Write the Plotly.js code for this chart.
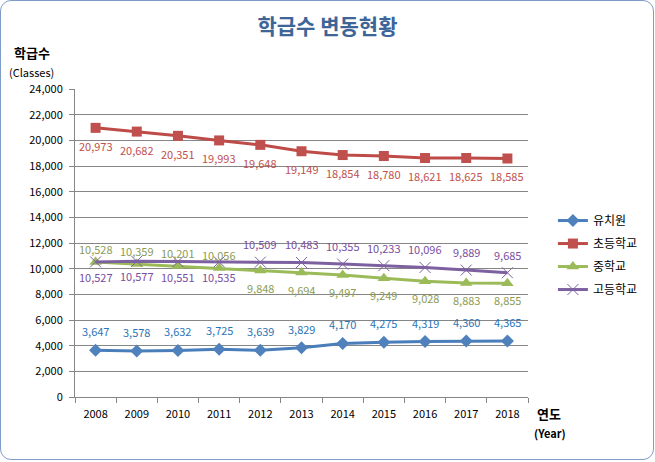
<!DOCTYPE html>
<html>
<head>
<meta charset="utf-8">
<script src="https://cdn.plot.ly/plotly-3.0.1.min.js"></script>
<style>
html,body{margin:0;padding:0;background:#fff;}
#chart{position:absolute;left:0;top:0;width:655px;height:462px;}
#frame{position:absolute;left:0;top:0;width:654px;height:460px;box-sizing:border-box;border:1px solid #7f9cc8;border-radius:11px;pointer-events:none;}
</style>
</head>
<body>
<div id="chart"></div>
<div id="frame"></div>
<script>
const years = [2008, 2009, 2010, 2011, 2012, 2013, 2014, 2015, 2016, 2017, 2018];
const kindergarten = [3647, 3578, 3632, 3725, 3639, 3829, 4170, 4275, 4319, 4360, 4365];
const elementary = [20973, 20682, 20351, 19993, 19648, 19149, 18854, 18780, 18621, 18625, 18585];
const middle = [10528, 10359, 10201, 10056, 9848, 9694, 9497, 9249, 9028, 8883, 8855];
const high = [10527, 10577, 10551, 10535, 10509, 10483, 10355, 10233, 10096, 9889, 9685];
const seriesNames = ['유치원', '초등학교', '중학교', '고등학교'];

const FONT = '"Noto Sans CJK KR", "Noto Sans", sans-serif';
const fmt = v => v.toLocaleString('en-US');

const series = [
  {name: seriesNames[0], y: kindergarten, line: '#4a7ebb', marker: {symbol: 'diamond', size: 10, color: '#4f81bd'}, label: '#2c74b5', shift: years.map(() => 19)},
  {name: seriesNames[1], y: elementary, line: '#be4b48', marker: {symbol: 'square', size: 10, color: '#c0504d'}, label: '#c0504d', shift: years.map(() => -18)},
  {name: seriesNames[2], y: middle, line: '#9bbb59', marker: {symbol: 'triangle-up', size: 11, color: '#9bbb59'}, label: '#8c9c55', shift: years.map((y, i) => i < 4 ? 13 : -17)},
  {name: seriesNames[3], y: high, line: '#7d60a0', marker: {symbol: 'x-thin-open', size: 11, color: '#7d60a0', line: {width: 1, color: '#7d60a0'}}, label: '#7a4ea0', shift: years.map((y, i) => i < 4 ? -15 : 18)}
];

const traces = series.map((s, k) => ({
  x: years, y: s.y, name: s.name, type: 'scatter', mode: 'lines+markers',
  legendgroup: 'g' + k,
  line: {color: s.line, width: 3},
  marker: s.marker
}));

const labelAnnotations = [];
series.forEach(s => {
  years.forEach((yr, i) => {
    labelAnnotations.push({
      x: yr, y: s.y[i], xref: 'x', yref: 'y', text: fmt(s.y[i]),
      showarrow: false, xanchor: 'center', yanchor: 'middle', yshift: s.shift[i],
      font: {family: FONT, size: 11, color: s.label}
    });
  });
});

const layout = {
  width: 655, height: 462,
  margin: {l: 75, r: 120, t: 89, b: 65},
  paper_bgcolor: '#ffffff', plot_bgcolor: '#ffffff',
  font: {family: FONT, size: 11, color: '#000'},
  title: {
    text: '<b>학급수 변동현황</b>',
    font: {family: FONT, size: 21, color: '#3d6597'},
    x: 0.5, xanchor: 'center', y: 1 - 27/462, yanchor: 'middle', yref: 'container'
  },
  xaxis: {
    type: 'linear', range: [2007.5, 2018.5],
    tickmode: 'array', tickvals: years, ticktext: years.map(String),
    ticks: '', showgrid: false, zeroline: false, ticklabelstandoff: 7,
    showline: true, linecolor: '#868686', linewidth: 1,
    tickfont: {family: FONT, size: 11, color: '#000'},
    minor: {tickmode: 'linear', tick0: 2007.5, dtick: 1, ticks: 'outside', ticklen: 5, tickcolor: '#868686', showgrid: false},
    fixedrange: true
  },
  yaxis: {
    range: [0, 24000], dtick: 2000, tickformat: ',d',
    ticks: 'outside', ticklen: 5, tickcolor: '#868686', ticklabelstandoff: 4,
    showgrid: true, gridcolor: '#868686', gridwidth: 1,
    zeroline: false, showline: true, linecolor: '#868686', linewidth: 1,
    tickfont: {family: FONT, size: 11, color: '#000'},
    fixedrange: true
  },
  legend: {
    x: 1.055, xanchor: 'left', y: 0.62, yanchor: 'top',
    font: {family: FONT, size: 12, color: '#000'},
    bgcolor: 'rgba(0,0,0,0)', tracegroupgap: 4
  },
  showlegend: true,
  annotations: labelAnnotations.concat([
    {text: '<b>학급수</b>', xref: 'paper', yref: 'paper', x: (31-75)/460, y: (397-52)/308, xanchor: 'center', yanchor: 'middle', showarrow: false, font: {family: FONT, size: 13, color: '#000'}},
    {text: '(Classes)', xref: 'paper', yref: 'paper', x: (31-75)/460, y: (397-72)/308, xanchor: 'center', yanchor: 'middle', showarrow: false, font: {family: FONT, size: 11, color: '#000'}},
    {text: '<b>연도</b>', xref: 'paper', yref: 'paper', x: (556-75)/460, y: -(413-397)/308, xanchor: 'center', yanchor: 'middle', showarrow: false, font: {family: FONT, size: 13, color: '#000'}},
    {text: '<b>(Year)</b>', xref: 'paper', yref: 'paper', x: (557-75)/460, y: -(433-397)/308, xanchor: 'center', yanchor: 'middle', showarrow: false, font: {family: FONT, size: 11, color: '#000'}}
  ])
};

Plotly.newPlot('chart', traces, layout, {displayModeBar: false, staticPlot: true});
</script>
</body>
</html>
